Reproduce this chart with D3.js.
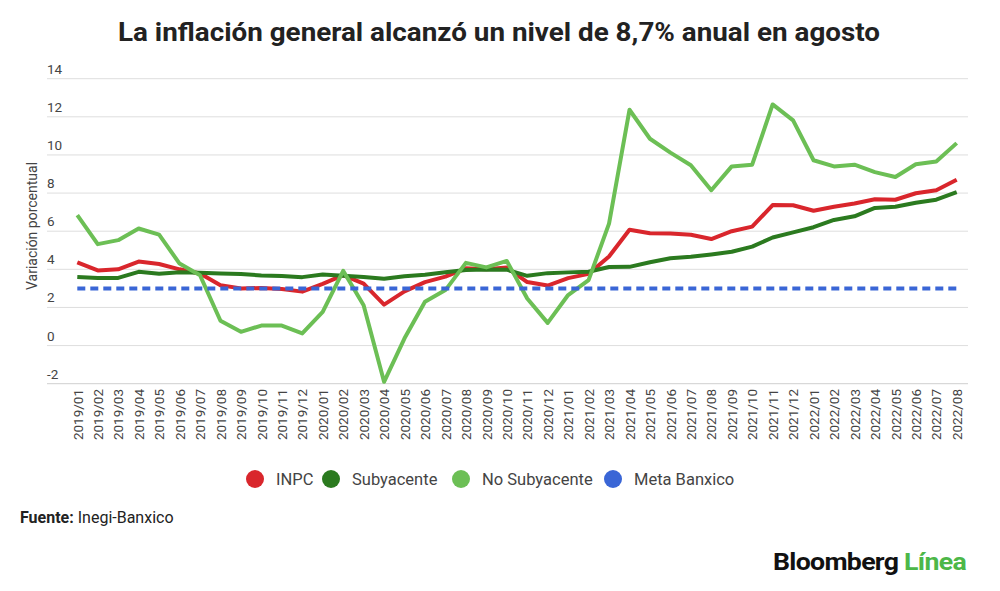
<!DOCTYPE html>
<html>
<head>
<meta charset="utf-8">
<script src="https://cdn.jsdelivr.net/npm/d3@7"></script>
<style>
  body { margin: 0; background: #fff; }
  svg { font-family: Roboto, "Noto Sans", sans-serif; }
</style>
</head>
<body>
<div id="chart"></div>
<script>
// Months shown on the x axis
const months = [
  '2019/01','2019/02','2019/03','2019/04','2019/05','2019/06','2019/07','2019/08','2019/09','2019/10','2019/11','2019/12',
  '2020/01','2020/02','2020/03','2020/04','2020/05','2020/06','2020/07','2020/08','2020/09','2020/10','2020/11','2020/12',
  '2021/01','2021/02','2021/03','2021/04','2021/05','2021/06','2021/07','2021/08','2021/09','2021/10','2021/11','2021/12',
  '2022/01','2022/02','2022/03','2022/04','2022/05','2022/06','2022/07','2022/08'
];

const inpc = [
  4.37, 3.94, 4.00, 4.41, 4.28, 4.00, 3.78, 3.16, 3.00, 3.02, 2.97, 2.83,
  3.24, 3.70, 3.25, 2.15, 2.84, 3.33, 3.62, 4.05, 4.01, 4.09, 3.33, 3.15,
  3.54, 3.76, 4.67, 6.08, 5.89, 5.88, 5.81, 5.59, 6.00, 6.24, 7.37, 7.36,
  7.07, 7.28, 7.45, 7.68, 7.65, 7.99, 8.15, 8.70
];

const subyacente = [
  3.60, 3.54, 3.55, 3.87, 3.77, 3.85, 3.82, 3.78, 3.75, 3.68, 3.65, 3.59,
  3.73, 3.66, 3.60, 3.50, 3.64, 3.71, 3.85, 3.97, 3.99, 3.98, 3.66, 3.80,
  3.84, 3.87, 4.12, 4.13, 4.37, 4.58, 4.66, 4.78, 4.92, 5.19, 5.67, 5.94,
  6.21, 6.59, 6.78, 7.22, 7.28, 7.49, 7.65, 8.05
];

const noSubyacente = [
  6.84, 5.32, 5.53, 6.14, 5.82, 4.30, 3.69, 1.30, 0.72, 1.05, 1.05, 0.64,
  1.77, 3.92, 2.12, -1.90, 0.38, 2.30, 2.91, 4.34, 4.10, 4.44, 2.47, 1.19,
  2.65, 3.43, 6.40, 12.37, 10.85, 10.12, 9.46, 8.15, 9.40, 9.49, 12.65, 11.81,
  9.72, 9.40, 9.49, 9.10, 8.84, 9.51, 9.66, 10.62
];

const metaBanxico = months.map(() => 3);

const yTicks = [-2, 0, 2, 4, 6, 8, 10, 12, 14];

const seriesNames = ['INPC', 'Subyacente', 'No Subyacente', 'Meta Banxico'];
const seriesColors = ['#d9262c', '#2b7a1f', '#6cbf55', '#3a66d6'];

const width = 1000, height = 591;

const svg = d3.select('#chart').append('svg')
    .attr('width', width)
    .attr('height', height);

// Title, squeezed a bit to the width of the original
svg.append('text')
    .attr('x', 499)
    .attr('y', 41)
    .attr('text-anchor', 'middle')
    .attr('font-size', 26)
    .attr('font-weight', 700)
    .attr('fill', '#222')
    .attr('textLength', 762)
    .attr('lengthAdjust', 'spacingAndGlyphs')
    .text('La inflación general alcanzó un nivel de 8,7% anual en agosto');

const xScale = d3.scalePoint()
    .domain(months)
    .range([77.3, 956.7]);

const yScale = d3.scaleLinear()
    .domain([-2, 14])
    .range([383.7, 78.7]);

const gridLeft = 47, gridRight = 968;

// Gridlines with labels sitting above them
const grid = svg.append('g').attr('class', 'grid');
grid.selectAll('line')
    .data(yTicks)
    .join('line')
    .attr('x1', gridLeft)
    .attr('x2', gridRight)
    .attr('y1', d => yScale(d))
    .attr('y2', d => yScale(d))
    .attr('stroke', d => d === -2 ? '#cfcfcf' : '#dedede')
    .attr('stroke-width', 1);

grid.selectAll('text')
    .data(yTicks)
    .join('text')
    .attr('x', gridLeft)
    .attr('y', d => yScale(d) - 5)
    .attr('font-size', 13.5)
    .attr('fill', '#444')
    .text(d => d);

// y axis title
svg.append('text')
    .attr('transform', 'translate(37,226) rotate(-90)')
    .attr('text-anchor', 'middle')
    .attr('font-size', 14)
    .attr('fill', '#444')
    .text('Variación porcentual');

// x axis labels, rotated
const xAxis = d3.axisBottom(xScale).tickSize(0).tickPadding(0);
svg.append('g')
    .attr('transform', 'translate(0,389)')
    .call(xAxis)
    .call(g => g.select('.domain').remove())
    .call(g => g.selectAll('text')
        .attr('font-family', 'Roboto, "Noto Sans", sans-serif')
        .attr('font-size', 13.5)
        .attr('fill', '#444')
        .attr('text-anchor', 'end')
        .attr('dy', null)
        .attr('y', 0)
        .attr('transform', 'rotate(-90) translate(0,4.7)'));

// Lines
const line = d3.line()
    .x((d, i) => xScale(months[i]))
    .y(d => yScale(d));

const allSeries = [inpc, subyacente, noSubyacente, metaBanxico];

svg.append('g')
    .selectAll('path')
    .data(allSeries)
    .join('path')
    .attr('d', d => line(d))
    .attr('fill', 'none')
    .attr('stroke', (d, i) => seriesColors[i])
    .attr('stroke-width', 4)
    .attr('stroke-linejoin', 'round')
    .attr('stroke-dasharray', (d, i) => i === 3 ? '8,5' : null);

// Legend
const legendX = [255, 331, 461, 613];
const legend = svg.append('g');
const items = legend.selectAll('g')
    .data(seriesNames)
    .join('g')
    .attr('transform', (d, i) => `translate(${legendX[i]},479)`);

items.append('circle')
    .attr('r', 9)
    .attr('fill', (d, i) => seriesColors[i]);

items.append('text')
    .attr('x', 21)
    .attr('y', 6)
    .attr('font-size', 16.5)
    .attr('fill', '#444')
    .text(d => d);

// Source
const source = svg.append('text')
    .attr('x', 20)
    .attr('y', 523)
    .attr('font-size', 16)
    .attr('fill', '#222');
source.append('tspan').attr('font-weight', 700).text('Fuente:');
source.append('tspan').text(' Inegi-Banxico');

// Logo
const logo = svg.append('text')
    .attr('x', 773)
    .attr('y', 570)
    .attr('font-size', 23)
    .attr('font-weight', 700)
    .attr('letter-spacing', -0.6)
    .attr('textLength', 193)
    .attr('lengthAdjust', 'spacingAndGlyphs');
logo.append('tspan').attr('fill', '#111').text('Bloomberg ');
logo.append('tspan').attr('fill', '#4cb748').text('Línea');
</script>
</body>
</html>
